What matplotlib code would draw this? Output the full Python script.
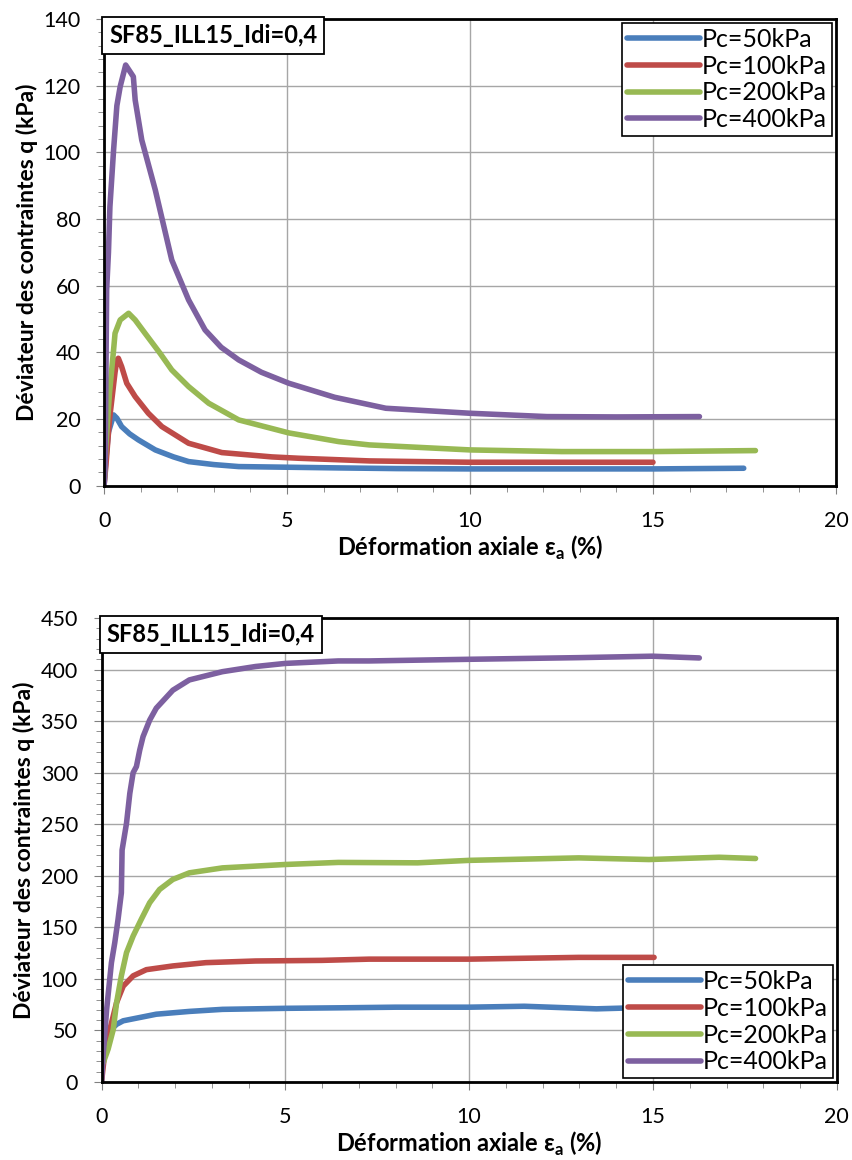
import matplotlib.pyplot as plt
from matplotlib.ticker import MultipleLocator

plt.rcParams['font.family'] = ['Lato', 'DejaVu Sans']
plt.rcParams['mathtext.fontset'] = 'custom'
plt.rcParams['mathtext.rm'] = 'Lato'
plt.rcParams['mathtext.bf'] = 'Lato:bold'

labels = ['Pc=50kPa', 'Pc=100kPa', 'Pc=200kPa', 'Pc=400kPa']
colors = ['#4a7ebb', '#be4b48', '#98b954', '#7d60a0']
title = 'SF85_ILL15_Idi=0,4'

# top chart: deviator stress vs axial strain (softening)
e50_top = [0, 0.05, 0.12, 0.26, 0.35, 0.48, 0.7, 0.94, 1.4, 1.9, 2.31, 3.0, 3.68, 5.05, 6.41, 8.0, 10.0, 12.5, 15.0, 17.48]
q50_top = [0, 8, 16, 21.2, 20.2, 17.7, 15.5, 13.7, 10.7, 8.6, 7.2, 6.3, 5.7, 5.5, 5.3, 5.1, 5.0, 5.0, 5.0, 5.2]
e100_top = [0, 0.05, 0.15, 0.3, 0.35, 0.39, 0.48, 0.62, 0.85, 1.21, 1.58, 2.31, 3.22, 4.59, 5.32, 7.25, 10.0, 12.5, 15.0]
q100_top = [0, 6, 20, 34, 37.7, 38.2, 35.7, 30.7, 26.7, 21.7, 17.7, 12.7, 9.9, 8.6, 8.2, 7.4, 7.0, 7.0, 7.0]
e200_top = [0, 0.05, 0.15, 0.26, 0.30, 0.44, 0.67, 0.85, 1.12, 1.53, 1.85, 2.31, 2.86, 3.68, 5.05, 6.41, 7.25, 10.0, 12.5, 15.0, 17.8]
q200_top = [0, 12, 28, 40.7, 45.7, 49.7, 51.7, 49.7, 45.7, 39.7, 34.7, 29.7, 24.7, 19.7, 15.8, 13.2, 12.2, 10.7, 10.2, 10.2, 10.5]
e400_top = [0, 0.03, 0.07, 0.12, 0.16, 0.26, 0.35, 0.44, 0.59, 0.80, 0.85, 1.03, 1.40, 1.85, 2.31, 2.76, 3.2, 3.68, 4.3, 5.05, 6.3, 7.7, 10.0, 12.1, 14.0, 16.27]
q400_top = [0, 5.7, 58.7, 70, 83.7, 100.7, 114, 119.7, 126.2, 122.7, 115.7, 103.7, 88.7, 67.7, 55.7, 46.7, 41.5, 37.7, 34, 30.7, 26.5, 23.2, 21.7, 20.7, 20.6, 20.7]

# bottom chart: hardening curves
e50_bot = [0, 0.05, 0.23, 0.41, 0.59, 1.04, 1.49, 2.39, 3.29, 5.0, 6.5, 8.0, 10.0, 11.5, 13.46, 15.5, 17.4]
q50_bot = [0, 41.6, 49.7, 56, 59.4, 62.6, 65.8, 68.5, 70.5, 71.5, 72, 72.6, 72.6, 73.5, 71, 73, 73]
e100_bot = [0, 0.09, 0.23, 0.41, 0.59, 0.86, 1.22, 1.94, 2.84, 4.19, 5.99, 7.28, 10.0, 12.98, 15.03]
q100_bot = [0, 28.7, 51.3, 77, 93, 103, 109, 112.6, 115.8, 117.4, 118, 119.2, 119.2, 120.9, 120.9]
e200_bot = [0.02, 0.05, 0.18, 0.32, 0.41, 0.54, 0.68, 0.86, 1.08, 1.31, 1.58, 1.94, 2.39, 3.29, 5.0, 6.44, 8.6, 10.0, 12.98, 14.89, 16.8, 17.79]
q200_bot = [18, 19, 32, 51, 77, 103, 125.5, 141.6, 157.7, 173.9, 186.8, 196.5, 202.9, 207.7, 211, 213, 212.6, 215, 217.4, 215.8, 218, 216.8]
e400_bot = [0, 0.05, 0.14, 0.27, 0.36, 0.45, 0.54, 0.56, 0.68, 0.77, 0.86, 0.95, 1.04, 1.13, 1.31, 1.49, 1.94, 2.39, 3.29, 4.19, 5.0, 6.44, 7.28, 10.0, 12.98, 14.98, 16.26]
q400_bot = [0, 28.7, 70.6, 115.8, 135, 157.7, 183.5, 225, 251, 280, 300, 306, 322, 335, 351, 362.6, 380, 390, 398, 403, 406, 408.4, 408.4, 410, 411.6, 413, 411.3]

fig = plt.figure(figsize=(8.53, 11.6), dpi=100)
ax1 = fig.add_axes([0.122, 0.5814, 0.858, 0.4022])
ax2 = fig.add_axes([0.119, 0.0672, 0.862, 0.4000])

top = [(e50_top, q50_top), (e100_top, q100_top), (e200_top, q200_top), (e400_top, q400_top)]
bot = [(e50_bot, q50_bot), (e100_bot, q100_bot), (e200_bot, q200_bot), (e400_bot, q400_bot)]


def style(ax, ymax, ymaj, ymin):
    ax.set_xlim(0, 20)
    ax.set_ylim(0, ymax)
    ax.xaxis.set_major_locator(MultipleLocator(5))
    ax.xaxis.set_minor_locator(MultipleLocator(1))
    ax.yaxis.set_major_locator(MultipleLocator(ymaj))
    ax.yaxis.set_minor_locator(MultipleLocator(ymin))
    ax.grid(True, which='major', color='#a6a6a6', lw=1)
    ax.set_axisbelow(True)
    ax.tick_params(which='both', direction='out', color='#808080', labelsize=15.5)
    ax.tick_params(which='major', length=6)
    ax.tick_params(which='minor', length=4)
    ax.tick_params(axis='x', which='major', pad=12)
    ax.tick_params(axis='y', which='major', pad=11)
    for s in ax.spines.values():
        s.set_color('black')
        s.set_linewidth(2)
    ax.set_xlabel(r'Déformation axiale ε$_\mathbf{a}$ (%)', fontsize=17, fontweight='bold', labelpad=2)
    ax.set_ylabel('Déviateur des contraintes q (kPa)', fontsize=16.5, fontweight='bold', labelpad=4)
    ax.text(0.007, 0.99, title, transform=ax.transAxes, ha='left', va='top',
            fontsize=17, fontweight='bold',
            bbox=dict(boxstyle='square,pad=0.3', fc='white', ec='black', lw=1.3))


for ax, data in [(ax1, top), (ax2, bot)]:
    for (e, q), c, lab in zip(data, colors, labels):
        ax.plot(e, q, color=c, lw=4, label=lab, solid_capstyle='round')

style(ax1, 140, 20, 4)
style(ax2, 450, 50, 10)

leg_kw = dict(prop={'size': 18}, frameon=True, fancybox=False, edgecolor='black', framealpha=1,
              handlelength=2.9, labelspacing=0.15, borderpad=0.2, borderaxespad=0.15,
              handletextpad=0.1)
l1 = ax1.legend(loc='upper right', bbox_to_anchor=(1, 1), **leg_kw)
l2 = ax2.legend(loc='lower right', bbox_to_anchor=(1, 0), **leg_kw)
for l in (l1, l2):
    l.get_frame().set_linewidth(1.2)

fig.savefig('out.png', dpi=100)
